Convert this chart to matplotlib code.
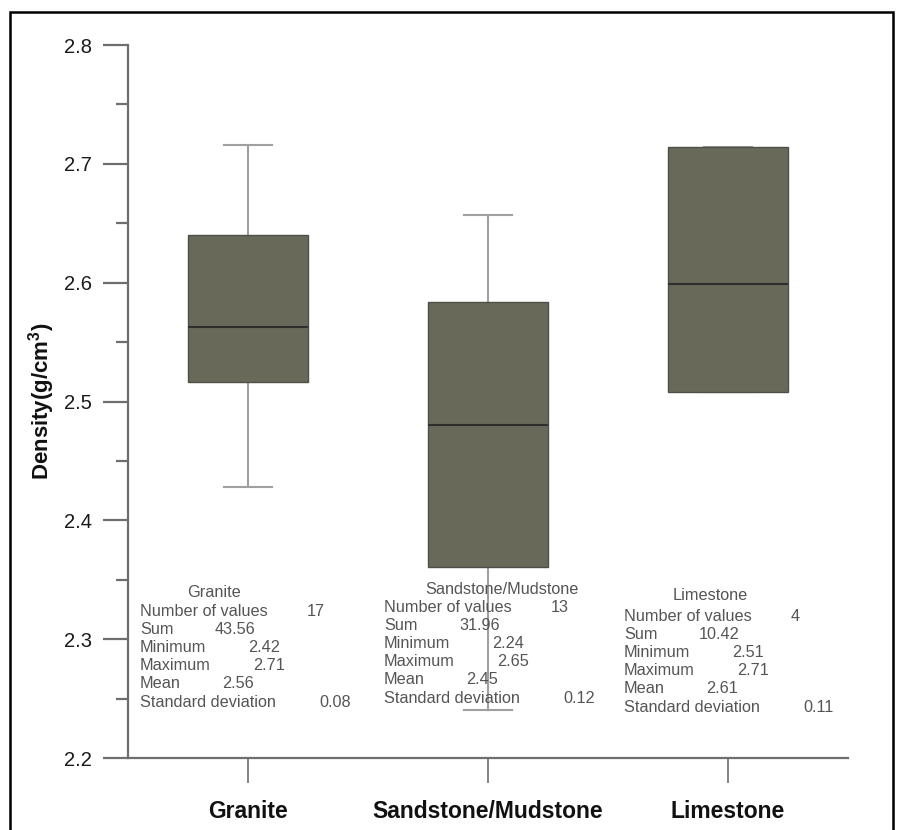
import matplotlib
matplotlib.use("Agg")
import matplotlib.pyplot as plt
from matplotlib.patches import Rectangle
from matplotlib.ticker import MultipleLocator

plt.rcParams['font.family'] = ['Liberation Sans', 'DejaVu Sans']
plt.rcParams['mathtext.fontset'] = 'custom'
plt.rcParams['mathtext.rm'] = 'Liberation Sans'
plt.rcParams['mathtext.bf'] = 'Liberation Sans:bold'

# ---- data ----
categories = ["Granite", "Sandstone/Mudstone", "Limestone"]
whisker_low = [2.428, 2.240, 2.508]
q1 = [2.516, 2.361, 2.508]
median = [2.563, 2.480, 2.599]
q3 = [2.640, 2.584, 2.714]
whisker_high = [2.716, 2.657, 2.714]

stat_labels = ["Number of values", "Sum", "Minimum", "Maximum", "Mean", "Standard deviation"]
n_values = ["17", "13", "4"]
sums = ["43.56", "31.96", "10.42"]
minimums = ["2.42", "2.24", "2.51"]
maximums = ["2.71", "2.65", "2.71"]
means = ["2.56", "2.45", "2.61"]
std_devs = ["0.08", "0.12", "0.11"]

W, H = 902, 830
fig = plt.figure(figsize=(W / 100, H / 100), dpi=100)

def fx(px):
    return px / W

def fy(py):
    return 1 - py / H

ax = fig.add_axes([fx(128), fy(758), (848 - 128) / W, (758 - 45) / H])

stats = []
for i, c in enumerate(categories):
    stats.append(dict(label=c, whislo=whisker_low[i], q1=q1[i], med=median[i],
                      q3=q3[i], whishi=whisker_high[i], fliers=[]))

positions = [1, 2, 3]
bp = ax.bxp(stats, positions=positions, widths=0.5, capwidths=0.2,
            patch_artist=True, showfliers=False,
            boxprops=dict(facecolor='#69695a', edgecolor='#4f4f4a', linewidth=1.0),
            medianprops=dict(color='#2e2e2e', linewidth=1.5),
            whiskerprops=dict(color='#a0a0a0', linewidth=1.5),
            capprops=dict(color='#a0a0a0', linewidth=1.5))
for b in bp['boxes']:
    b.set_zorder(3)
for m in bp['medians']:
    m.set_zorder(4)

ax.set_xlim(0.5, 3.5)
ax.set_ylim(2.2, 2.8)
ax.yaxis.set_major_locator(MultipleLocator(0.1))
ax.yaxis.set_minor_locator(MultipleLocator(0.05))
ax.set_yticklabels([f"{v:.1f}" for v in ax.get_yticks()])

for s in ['top', 'right']:
    ax.spines[s].set_visible(False)
for s in ['left', 'bottom']:
    ax.spines[s].set_color('#6e6e6e')
    ax.spines[s].set_linewidth(1.6)

ax.tick_params(axis='y', which='major', direction='out', length=18, width=1.6,
               color='#6e6e6e', labelsize=14.5, pad=8, labelcolor='#1a1a1a')
ax.tick_params(axis='y', which='minor', direction='out', length=8.6, width=1.6,
               color='#6e6e6e')
ax.tick_params(axis='x', which='major', direction='out', length=18, width=1.2,
               color='#6e6e6e', pad=12)
ax.set_xticks(positions)
ax.set_xticklabels(categories, fontsize=16.5, fontweight='bold', color='#111111')

ax.set_ylabel(r'Density(g/cm$^\mathbf{3}$)', fontsize=16, fontweight='bold',
              color='#111111')
ax.yaxis.set_label_coords(-0.099, 0.5)

# ---- statistic text blocks ----
blocks = [
    dict(left=140, title_left=187, title_y=592, first_y=611, step=18.2),
    dict(left=384, title_left=425, title_y=590, first_y=608, step=18.0),
    dict(left=624, title_left=673, title_y=596, first_y=616, step=18.2),
]
value_offsets = [167, 75, 108, 113, 82, 179]
txt_kw = dict(fontsize=11.7, color='#555555', va='center', ha='left')
for i, blk in enumerate(blocks):
    fig.text(fx(blk['title_left']), fy(blk['title_y']), categories[i], **txt_kw)
    vals = [n_values[i], sums[i], minimums[i], maximums[i], means[i], std_devs[i]]
    for j, (lab, val) in enumerate(zip(stat_labels, vals)):
        y = blk['first_y'] + j * blk['step']
        fig.text(fx(blk['left']), fy(y), lab, **txt_kw)
        fig.text(fx(blk['left'] + value_offsets[j]), fy(y), val, **txt_kw)

# ---- outer frame ----
frame = Rectangle((fx(10), fy(850)), fx(893) - fx(10), fy(12) - fy(850),
                  transform=fig.transFigure, fill=False, edgecolor='black',
                  linewidth=1.8, clip_on=False)
fig.add_artist(frame)

fig.savefig("out.png", dpi=100)
